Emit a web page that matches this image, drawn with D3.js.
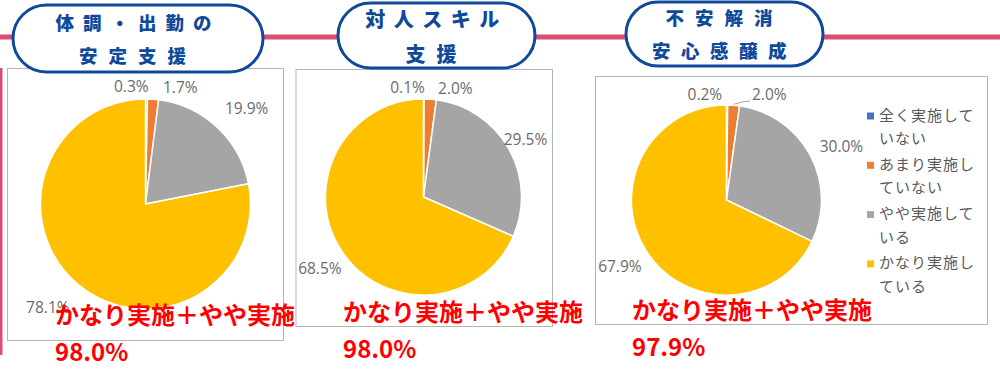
<!DOCTYPE html>
<html lang="ja">
<head>
<meta charset="utf-8">
<script src="https://cdn.jsdelivr.net/npm/d3@7"></script>
<style>
  html, body { margin: 0; padding: 0; background: #fff; }
  svg { display: block; }
</style>
</head>
<body>
<svg id="chart" width="1000" height="375"></svg>
<script>
// ---- data ----
const sliceNames = ["全く実施していない", "あまり実施していない", "やや実施している", "かなり実施している"];
const legendLines = [["全く実施して", "いない"], ["あまり実施し", "ていない"], ["やや実施して", "いる"], ["かなり実施し", "ている"]];
const sliceColors = ["#4472C4", "#ED7D31", "#A5A5A5", "#FFC000"];
const panelTitles = [["体調・出勤の", "安定支援"], ["対人スキル", "支援"], ["不安解消", "安心感醸成"]];
const valuesBody = [0.3, 1.7, 19.9, 78.1];      // 体調・出勤の安定支援
const valuesSkill = [0.1, 2.0, 29.5, 68.5];     // 対人スキル支援
const valuesAnxiety = [0.2, 2.0, 30.0, 67.9];   // 不安解消・安心感醸成
const combinedLabel = "かなり実施＋やや実施";

// ---- layout ----
const panels = [
  { values: valuesBody, title: panelTitles[0], cx: 145.5, cy: 204, r: 105,
    box: [7, 68, 283, 340], pill: [13, 5, 263, 72], titleY: [22, 55], titleSize: 18.5, titleLS: [9, 11],
    totalX: 55, totalY: [313, 350], nudge: [[2, 0], [9, 0], [8, 4], [-11, -2]], leader: [] },
  { values: valuesSkill, title: panelTitles[1], cx: 423.5, cy: 197, r: 98,
    box: [295.5, 69, 552, 326], pill: [338, 3, 535, 68], titleY: [18, 53], titleSize: 20, titleLS: [8.5, 11],
    totalX: 343, totalY: [310, 347], nudge: [[1, 0], [7, 0], [-9, 5], [3, 1]], leader: [] },
  { values: valuesAnxiety, title: panelTitles[2], cx: 726.5, cy: 200, r: 95,
    box: [595, 76, 987, 324], pill: [626, 2, 823, 66], titleY: [17, 50], titleSize: 18.5, titleLS: [11, 10.5],
    totalX: 632, totalY: [308, 345], nudge: [[-5, 0], [17.5, 0], [6, 4], [-2, 0]], leader: [1] }
];

const svg = d3.select("#chart");
const accent = "#da4f70";
const navy = "#0f4a9a";
const labelFont = "'Open Sans', 'Noto Sans', sans-serif";
const jpFont = "'Noto Sans CJK JP', 'Noto Sans', sans-serif";

// pink guide lines
svg.append("rect").attr("x", 0).attr("y", 34.5).attr("width", 1000).attr("height", 5).attr("fill", accent);
svg.append("rect").attr("x", 0).attr("y", 68).attr("width", 2.5).attr("height", 287).attr("fill", accent);

const pie = d3.pie().sort(null).value(d => d);
const colorScale = d3.scaleOrdinal().domain(d3.range(sliceNames.length)).range(sliceColors);

panels.forEach(p => {
  const g = svg.append("g");

  // chart frame
  g.append("rect")
    .attr("x", p.box[0] + 0.5).attr("y", p.box[1] + 0.5)
    .attr("width", p.box[2] - p.box[0]).attr("height", p.box[3] - p.box[1])
    .attr("fill", "#fff").attr("stroke", "#b5b5b5").attr("stroke-width", 1);

  // slices
  const arcs = pie(p.values);
  const arc = d3.arc().innerRadius(0).outerRadius(p.r);
  const pg = g.append("g").attr("transform", `translate(${p.cx},${p.cy})`);
  pg.selectAll("path").data(arcs).join("path")
    .attr("d", arc)
    .attr("fill", (d, i) => colorScale(i))
    .attr("stroke", "#fff").attr("stroke-width", 1.5).attr("stroke-linejoin", "round");

  // value labels
  const total = d3.sum(p.values);
  arcs.forEach((d, i) => {
    const small = d.value / total < 0.03;
    const lr = small ? p.r * 1.12 : p.r * 1.3;
    const c = d3.arc().innerRadius(lr).outerRadius(lr).centroid(d);
    const x = p.cx + c[0] + p.nudge[i][0];
    const y = p.cy + c[1] + p.nudge[i][1];
    const anchor = small ? (i === 0 ? "end" : "start") : "middle";
    g.append("text")
      .attr("x", x).attr("y", y)
      .attr("text-anchor", anchor).attr("dominant-baseline", "central")
      .attr("font-family", labelFont).attr("font-size", 15.5)
      .attr("fill", "#6b6b6b")
      .text(d3.format(".1f")(d.value) + "%");
    if (p.leader.includes(i)) {
      const mid = (d.startAngle + d.endAngle) / 2;
      const sx = p.cx + (p.r + 1) * Math.sin(mid);
      const sy = p.cy - (p.r + 1) * Math.cos(mid);
      g.append("path")
        .attr("d", d3.line()([[sx, sy], [sx + 9, y + 8], [x - 2, y + 7]]))
        .attr("fill", "none").attr("stroke", "#a6a6a6").attr("stroke-width", 1);
    }
  });

  // title pill
  const [px0, py0, px1, py1] = p.pill;
  const ph = py1 - py0;
  g.append("rect")
    .attr("x", px0).attr("y", py0).attr("width", px1 - px0).attr("height", ph)
    .attr("rx", ph / 2).attr("ry", ph / 2)
    .attr("fill", "#fff").attr("stroke", navy).attr("stroke-width", 3);
  p.title.forEach((line, k) => {
    g.append("text")
      .attr("x", (px0 + px1) / 2).attr("y", p.titleY[k])
      .attr("text-anchor", "middle").attr("dominant-baseline", "central")
      .attr("font-family", jpFont).attr("font-weight", 900)
      .attr("font-size", p.titleSize).attr("letter-spacing", p.titleLS[k])
      .attr("fill", navy)
      .text(line);
  });

  // combined share of the two upper categories
  const combined = p.values[2] + p.values[3];
  g.append("text")
    .attr("x", p.totalX).attr("y", p.totalY[0])
    .attr("dominant-baseline", "central")
    .attr("font-family", jpFont).attr("font-weight", 700).attr("font-size", 24)
    .attr("fill", "#ff0000")
    .text(combinedLabel);
  g.append("text")
    .attr("x", p.totalX).attr("y", p.totalY[1])
    .attr("dominant-baseline", "central")
    .attr("font-family", jpFont).attr("font-weight", 700).attr("font-size", 24)
    .attr("fill", "#ff0000")
    .text(d3.format(".1f")(combined) + "%");
});

// legend (third panel)
const legend = svg.append("g");
legendLines.forEach((lines, i) => {
  const y0 = 114 + i * 49.3;
  legend.append("rect")
    .attr("x", 867).attr("y", y0 - 1.5).attr("width", 7).attr("height", 7)
    .attr("fill", colorScale(i));
  lines.forEach((t, k) => {
    legend.append("text")
      .attr("x", 879).attr("y", y0 + k * 23.5)
      .attr("dominant-baseline", "central")
      .attr("font-family", jpFont).attr("font-size", 15).attr("letter-spacing", 1)
      .attr("fill", "#595959")
      .text(t);
  });
});
</script>
</body>
</html>
